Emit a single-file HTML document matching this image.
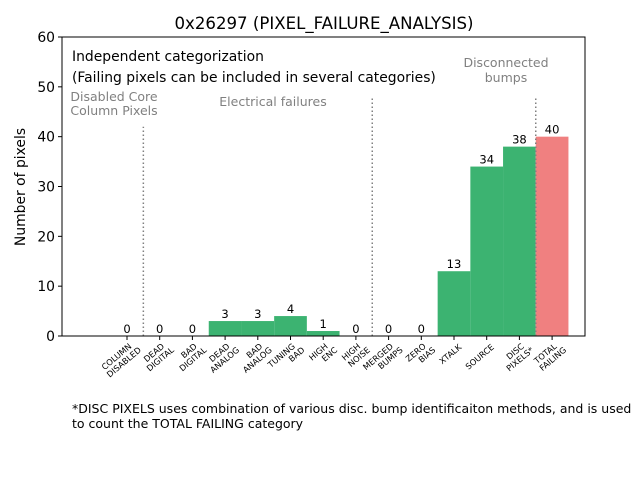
<!DOCTYPE html>
<html><head><meta charset="utf-8"><style>body{margin:0;background:#fff}svg{font-family:"DejaVu Sans","Liberation Sans",sans-serif}</style></head>
<body>
<svg id="c" width="640" height="480" xmlns="http://www.w3.org/2000/svg">
<rect width="640" height="480" fill="#fff"/>
<text x="324" y="29" font-size="16.6" text-anchor="middle">0x26297 (PIXEL_FAILURE_ANALYSIS)</text>
<g id="plot"></g>
<rect x="62" y="37" width="523" height="299" fill="none" stroke="#000" stroke-width="1"/>
<text transform="translate(25,187) rotate(-90)" font-size="13.9" text-anchor="middle">Number of pixels</text>
<text x="72" y="61" font-size="13.9">Independent categorization</text>
<text x="72" y="82" font-size="13.9">(Failing pixels can be included in several categories)</text>
<text x="114" y="101" font-size="12.5" fill="#808080" text-anchor="middle">Disabled Core</text>
<text x="114" y="115" font-size="12.5" fill="#808080" text-anchor="middle">Column Pixels</text>
<text x="273" y="106" font-size="12.5" fill="#808080" text-anchor="middle">Electrical failures</text>
<text x="506" y="67" font-size="12.5" fill="#808080" text-anchor="middle">Disconnected</text>
<text x="506" y="82" font-size="12.5" fill="#808080" text-anchor="middle">bumps</text>
<text x="72" y="413" font-size="12.5">*DISC PIXELS uses combination of various disc. bump identificaiton methods, and is used</text>
<text x="72" y="428" font-size="12.5">to count the TOTAL FAILING category</text>
</svg>
<script>
const categories=[["COLUMN","DISABLED"],["DEAD","DIGITAL"],["BAD","DIGITAL"],["DEAD","ANALOG"],["BAD","ANALOG"],["TUNING","BAD"],["HIGH","ENC"],["HIGH","NOISE"],["MERGED","BUMPS"],["ZERO","BIAS"],["XTALK"],["SOURCE"],["DISC","PIXELS*"],["TOTAL","FAILING"]];
const values=[0,0,0,3,3,4,1,0,0,0,13,34,38,40];
const yTicks=[0,10,20,30,40,50,60];
const separators=[0.5,7.5,12.5];
const separatorTops=[42,48,48];
const NS="http://www.w3.org/2000/svg";
const g=document.getElementById("plot");
const x=i=>127+32.7*i;
const y=v=>336-v*(299/60);
const bw=32.7;
function mk(t,a){const e=document.createElementNS(NS,t);for(const k in a)e.setAttribute(k,a[k]);g.appendChild(e);return e;}
values.forEach((v,i)=>{
 const r=mk("rect",{x:x(i)-bw/2,y:y(v),width:bw,height:y(0)-y(v),fill:i===13?"#f08080":"#3cb371"});
 
 
 const t=mk("text",{x:x(i),y:y(v)-3,"font-size":"11.5","text-anchor":"middle"});t.textContent=v;
 
 
 const tk=mk("line",{x1:x(i),x2:x(i),y1:336,y2:340,stroke:"#000"});
 
 
 const lab=mk("text",{transform:`translate(${x(i)+8},348) rotate(-40)`,"font-size":"8.3","text-anchor":"end"});
 
 
 categories[i].forEach((s,j)=>{const ts=document.createElementNS(NS,"tspan");ts.setAttribute("x",categories[i].length>1?(j===0?-5:0):0);ts.setAttribute("dy",j===0?0:9);ts.textContent=s;lab.appendChild(ts);});
 if(categories[i].length>1){lab.setAttribute("transform",`translate(${x(i)+9},${348-4}) rotate(-40)`);}
});
yTicks.forEach(v=>{
 const l=mk("line",{x1:58,x2:62,y1:y(v),y2:y(v),stroke:"#000"});
 
 
 const t=mk("text",{x:55,y:y(v)+5,"font-size":"13.9","text-anchor":"end"});t.textContent=v;
 
 
});
separators.forEach((s,i)=>{
 const l=mk("line",{x1:x(s),x2:x(s),y1:y(0),y2:y(separatorTops[i]),stroke:"#808080","stroke-width":"1.5","stroke-dasharray":"1.5,2.5"});
 
 
});
</script>
</body></html>
